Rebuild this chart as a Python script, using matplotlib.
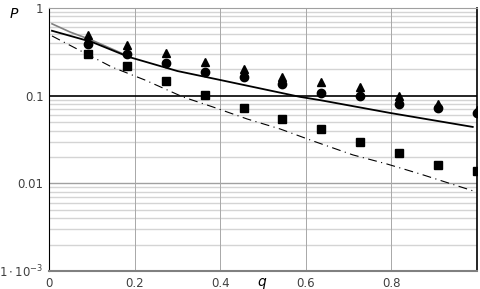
import numpy as np
import matplotlib.pyplot as plt

# точки (q = k/11)
q = [1/11, 2/11, 3/11, 4/11, 5/11, 6/11, 7/11, 8/11, 9/11, 10/11, 1.0]
p_tri = [0.49, 0.38, 0.31, 0.242, 0.20, 0.163, 0.143, 0.126, 0.099, 0.080, 0.068]
p_circ = [0.389, 0.30, 0.236, 0.186, 0.163, 0.136, 0.107, 0.099, 0.080, 0.072, 0.064]
p_sq = [0.30, 0.218, 0.147, 0.102, 0.072, 0.054, 0.042, 0.030, 0.022, 0.016, 0.014]

# криві
q_solid = [0.007, 0.10, 0.187, 0.30, 0.40, 0.586, 0.633, 0.797, 0.99]
p_solid = [0.55, 0.41, 0.276, 0.191, 0.151, 0.097, 0.089, 0.0635, 0.044]
q_gray = [0.007, 0.05, 0.10, 0.187]
p_gray = [0.66, 0.53, 0.43, 0.28]
q_dd = [0.007, 0.061, 0.147, 0.224, 0.313, 0.383, 0.463, 0.540, 0.617, 0.710, 0.790, 0.867, 0.991]
p_dd = [0.48, 0.35, 0.212, 0.151, 0.0967, 0.0743, 0.0542, 0.0417, 0.0304, 0.0211, 0.0166, 0.0128, 0.0082]

fig = plt.figure(figsize=(4.81, 2.89), dpi=100)
ax = fig.add_axes([49/481, 18/289, 428/481, 263/289])
ax.set_yscale('log')
ax.set_xlim(0, 1)
ax.set_ylim(1e-3, 1)

# сітка
for dec in [1e-3, 1e-2, 1e-1]:
    for m in range(2, 10):
        ax.axhline(dec*m, color='#d4d4d4', lw=1, zorder=0)
ax.axhline(0.01, color='#a0a0a0', lw=1, zorder=0)
for xv in [0.2, 0.4, 0.6, 0.8]:
    ax.axvline(xv, color='#a8a8a8', lw=0.7, zorder=0)
ax.axhline(0.1, color='black', lw=1.2, zorder=1)

ax.plot(q_gray, p_gray, color='#808080', lw=1.2, zorder=2)
ax.plot(q_solid, p_solid, color='black', lw=1.3, zorder=2)
ax.plot(q_dd, p_dd, color='black', lw=0.8, linestyle=(0, (8, 4, 1, 4)), zorder=2)

ax.plot(q, p_tri, '^', color='black', ms=6, zorder=3)
ax.plot(q, p_circ, 'o', color='black', ms=6, zorder=3)
ax.plot(q, p_sq, 's', color='black', ms=6, zorder=3)

ax.set_xticks([0, 0.2, 0.4, 0.6, 0.8])
ax.set_xticklabels(['0', '0.2', '0.4', '0.6', '0.8'])
ax.set_yticks([1e-3, 1e-2, 1e-1, 1])
ax.set_yticklabels([r'$1\cdot10^{-3}$', '0.01', '0.1', '1'])
ax.minorticks_off()
ax.tick_params(length=0, labelsize=8.5, colors='#404040', pad=4)

ax.spines['left'].set_color('black')
ax.spines['right'].set_color('black')
ax.spines['right'].set_linewidth(1.2)
ax.spines['top'].set_color('#a0a0a0')
ax.spines['bottom'].set_color('#808080')
ax.spines['bottom'].set_linewidth(1.5)

fig.text(262/481, 1 - 282/289, 'q', style='italic', fontsize=10, ha='center', va='center')
fig.text(14/481, 1 - 14/289, 'P', style='italic', fontsize=10, ha='center', va='center')

fig.savefig('out.png', dpi=100)
